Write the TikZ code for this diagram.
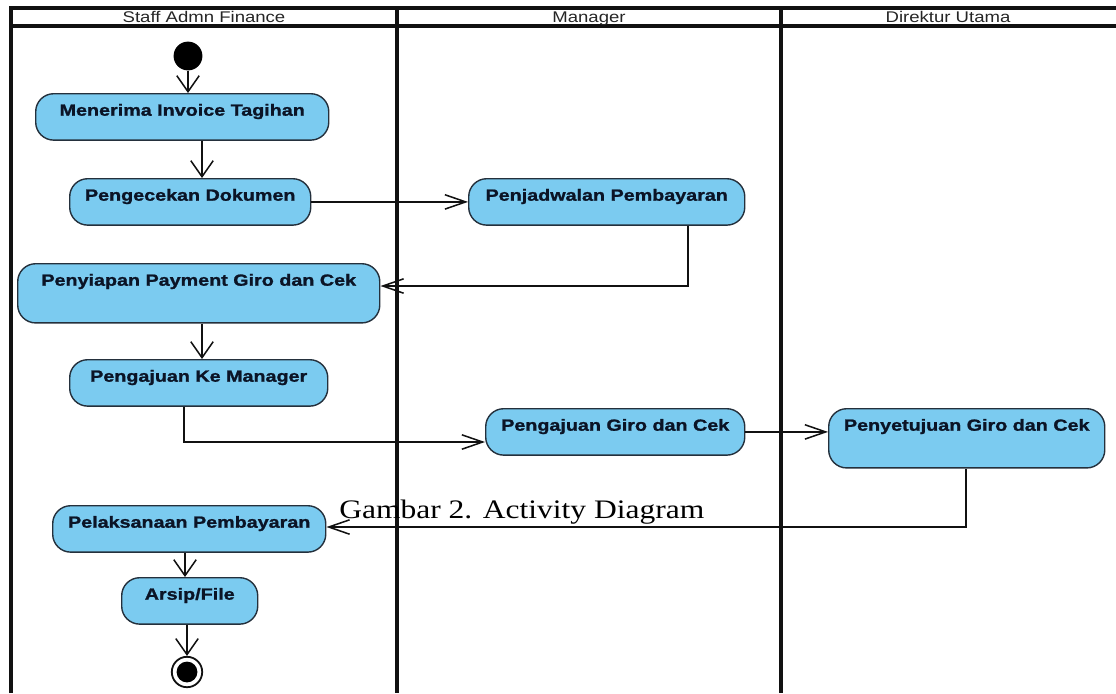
\documentclass[tikz,border=0pt]{standalone}
\usepackage{fontspec}
\usetikzlibrary{arrows.meta}
\newfontfamily\sansgambar[FakeStretch=1.2]{Liberation Sans}
\newfontfamily\sanstebal[FakeStretch=1.22,BoldFeatures={FakeBold=1.3}]{Liberation Sans}
\newfontfamily\serifgambar[FakeStretch=1.18]{Liberation Serif}
\definecolor{biru}{HTML}{7BCBF0}
\definecolor{tepi}{HTML}{24303C}
\definecolor{garis}{HTML}{111111}
\definecolor{huruf}{HTML}{0B1426}

\begin{document}
\begin{tikzpicture}[x=0.025cm,y=-0.025cm,
   aksi/.style={draw=tepi,line width=0.35mm,fill=biru,rounded corners=4.5mm,anchor=north west,
     inner xsep=0pt,inner ysep=0pt,text height=5.5mm,text depth=6.1mm,text=huruf,
     font=\sanstebal\bfseries\fontsize{11.5}{12}\selectfont},
   tinggi/.style={text depth=9.3mm},
   lajur/.style={garis,line width=0.8mm},
   kepala/.style={anchor=base,inner sep=0pt,text=black!85,font=\sansgambar\fontsize{11}{12}\selectfont},
   vpanah/.style={garis,line width=0.38mm,-{Straight Barb[length=4mm,width=5.6mm]}},
   hpanah/.style={garis,line width=0.38mm,-{Straight Barb[length=5.2mm,width=3.6mm]}}]

  \useasboundingbox (0,0) rectangle (1116,693);

  % kerangka lajur
  \draw[lajur] (11,693) -- (11,8) -- (1116,8);
  \draw[lajur] (11,26) -- (1116,26);
  \draw[lajur] (397,8) -- (397,693);
  \draw[lajur] (781,8) -- (781,693);
  \node[kepala] (staf) at (204,22) {Staff Admn Finance};
  \node[kepala] (mgr)  at (589,22) {Manager};
  \node[kepala] (dirut) at (948,22) {Direktur Utama};

  % --- aktivitas ---
  \node[circle,fill=black,minimum size=7.2mm,inner sep=0pt] (mulai) at (188,56) {};
  \node[aksi,minimum width=73.25mm] (n1) at (35,93)  {Menerima Invoice Tagihan};
  \node[aksi,minimum width=60.25mm] (n2) at (69,178) {Pengecekan Dokumen};
  \node[aksi,minimum width=69mm]    (n4) at (468,178) {Penjadwalan Pembayaran};
  \node[aksi,tinggi,minimum width=90.5mm] (n3) at (17,263) {Penyiapan Payment Giro dan Cek};
  \node[aksi,minimum width=64.5mm]  (n5) at (69,359) {Pengajuan Ke Manager};
  \node[aksi,minimum width=64.75mm] (n6) at (485,408) {Pengajuan Giro dan Cek};
  \node[aksi,tinggi,minimum width=69mm] (n7) at (828,408) {Penyetujuan Giro dan Cek};
  \node[aksi,minimum width=68.25mm] (n8) at (52,505) {Pelaksanaan Pembayaran};
  \node[aksi,minimum width=34mm]    (n9) at (121,577) {Arsip/File};
  \node[circle,draw=garis,line width=0.45mm,fill=white,minimum size=7.6mm,inner sep=0pt] (selesai) at (187,672) {};
  \node[circle,fill=black,minimum size=5.2mm,inner sep=0pt] (titik) at (selesai) {};

  % --- alur ---
  \coordinate (xa) at (202,0);
  \coordinate (xb) at (185,0);
  \coordinate (b1) at (688,286);
  \coordinate (b2) at (184,442);
  \coordinate (b3) at (966,527);
  \draw[vpanah] (mulai) -- (n1.north -| mulai);
  \draw[vpanah] (n1.south -| xa) -- (n2.north -| xa);
  \draw[hpanah] (n2) -- (n4);
  \draw[hpanah] (n4.south -| b1) -- (b1) -- (b1 -| n3.east);
  \draw[vpanah] (n3.south -| xa) -- (n5.north -| xa);
  \draw[hpanah] (n5.south -| b2) -- (b2) -- (b2 -| n6.west);
  \draw[hpanah] (n6.east) -- (n6.east -| n7.west);
  \draw[hpanah] (n7.south -| b3) -- (b3) -- (b3 -| n8.east);
  \draw[vpanah] (n8.south -| xb) -- (n9.north -| xb);
  \draw[vpanah] (n9.south -| selesai) -- (selesai);

  % keterangan
  \node[anchor=base west,inner sep=0pt,font=\serifgambar\fontsize{19}{20}\selectfont] (ket) at (339,518)
    {Gambar 2. Activity Diagram};
\end{tikzpicture}
\end{document}
